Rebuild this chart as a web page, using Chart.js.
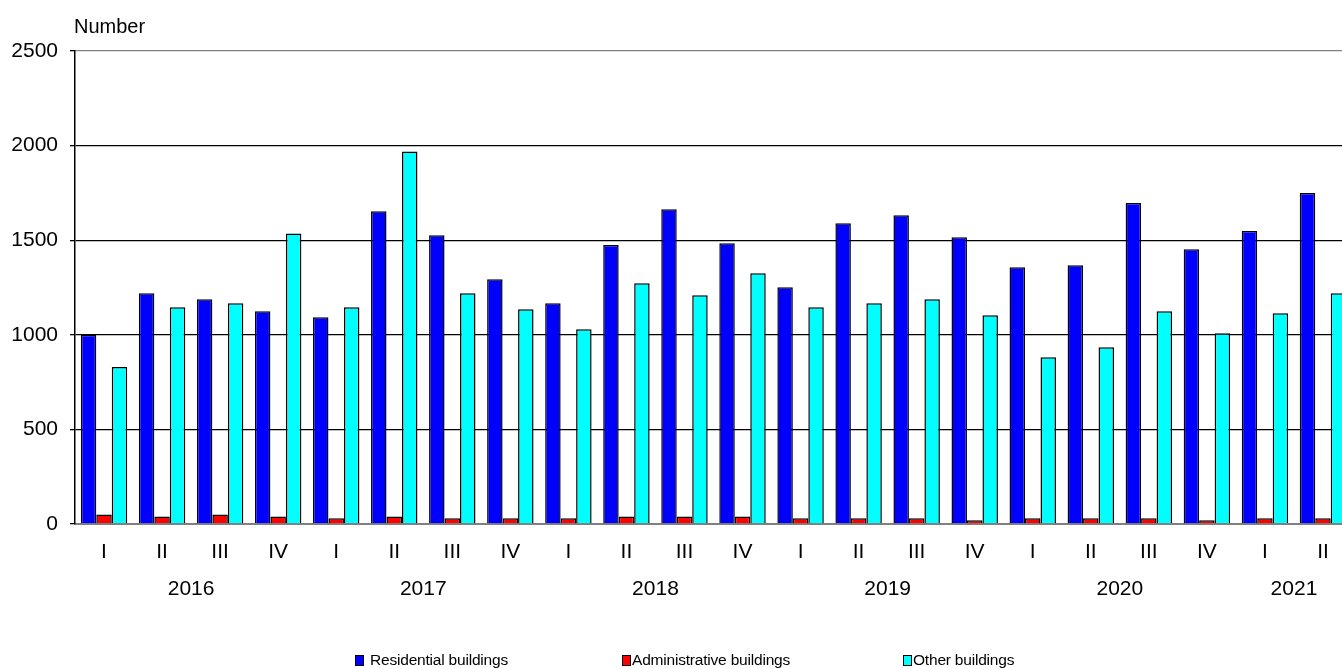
<!DOCTYPE html>
<html lang="en">
<head>
    <meta charset="UTF-8">
    <title>Buildings by quarter</title>
    <script src="https://cdn.jsdelivr.net/npm/chart.js@4.4.0/dist/chart.umd.min.js"></script>
    <style>
        body { margin: 0; overflow: hidden; background: #fff; font-family: "Liberation Sans", Arial, sans-serif; }
        #wrap { position: relative; width: 1342px; height: 668px; overflow: hidden; }
        #chart { display: block; }
        .leg { position: absolute; top: 651px; font-size: 15.5px; line-height: 18px; color: #000; white-space: nowrap; letter-spacing: -0.2px; }
        .leg i { display: inline-block; width: 7px; height: 9px; border: 1.5px solid #000; margin-right: 6px; vertical-align: -1px; }
    </style>
</head>
<body>
<div id="wrap">
    <canvas id="chart" width="1360" height="668"></canvas>
    <div class="leg" style="left:355px"><i style="background:#0000ff"></i>Residential buildings</div>
    <div class="leg" style="left:622px"><i style="background:#ff0000;margin-right:1px"></i>Administrative buildings</div>
    <div class="leg" style="left:903px"><i style="background:#00ffff;margin-right:1px"></i>Other buildings</div>
</div>
<script>
    // quarter labels and the years they belong to
    const quarters = ['I','II','III','IV','I','II','III','IV','I','II','III','IV',
                      'I','II','III','IV','I','II','III','IV','I','II'];
    const years = ['2016','2017','2018','2019','2020','2021'];

    // values
    const residential = [1000, 1220, 1188, 1124, 1093, 1653, 1526, 1294, 1167, 1474, 1664,
                         1484, 1251, 1590, 1632, 1516, 1357, 1368, 1696, 1452, 1548, 1749];
    const administrative = [50, 40, 50, 40, 30, 40, 30, 30, 30, 40, 40,
                            40, 30, 30, 30, 20, 30, 30, 30, 20, 30, 30];
    const other = [830, 1146, 1167, 1535, 1146, 1969, 1220, 1135, 1029, 1272, 1209,
                   1325, 1146, 1167, 1188, 1103, 881, 934, 1124, 1008, 1114, 1220];

    const font = '"Liberation Sans", Arial, sans-serif';

    // draws the "Number" caption and the year row under the quarters
    const extraText = {
        id: 'extraText',
        afterDraw(chart) {
            const c = chart.ctx;
            const xs = chart.scales.x;
            c.save();
            c.fillStyle = '#000';
            c.font = '20px ' + font;
            c.textAlign = 'left';
            c.textBaseline = 'alphabetic';
            c.fillText('Number', 74, 33);
            c.font = '21px ' + font;
            c.textAlign = 'center';
            c.textBaseline = 'middle';
            years.forEach((y, i) => {
                const first = i * 4;
                const last = Math.min(first + 3, quarters.length - 1);
                const mid = (xs.getPixelForValue(first) + xs.getPixelForValue(last)) / 2;
                c.fillText(y, mid, 589);
            });
            c.restore();
        }
    };

    const config = {
        type: 'bar',
        data: {
            labels: quarters,
            datasets: [
                { label: 'Residential buildings', data: residential, backgroundColor: '#0000ff' },
                { label: 'Administrative buildings', data: administrative, backgroundColor: '#ff0000' },
                { label: 'Other buildings', data: other, backgroundColor: '#00ffff' }
            ]
        },
        options: {
            responsive: false,
            animation: false,
            layout: { padding: { top: 51, right: 8, left: 0, bottom: 0 } },
            datasets: {
                bar: { barPercentage: 1, categoryPercentage: 0.8, borderWidth: 1.5, borderColor: '#000', borderSkipped: 'bottom' }
            },
            plugins: { legend: { display: false }, tooltip: { enabled: false } },
            scales: {
                x: {
                    grid: { display: false, drawTicks: false },
                    border: { color: '#808080', width: 2 },
                    ticks: { color: '#000', font: { family: font, size: 21 }, padding: 16, maxRotation: 0, autoSkip: false },
                    afterFit(s) { s.height = 144; }
                },
                y: {
                    min: 0, max: 2500,
                    grid: {
                        color: ctx => (ctx.tick.value === 2500 || ctx.tick.value === 0) ? '#808080' : '#000',
                        tickColor: '#000', tickLength: 5, lineWidth: 1.3
                    },
                    border: { color: '#000', width: 1.5 },
                    ticks: { stepSize: 500, color: '#000', font: { family: font, size: 21 }, padding: 12,
                             callback: v => String(v) },
                    afterFit(s) { s.width = 75; }
                }
            }
        },
        plugins: [extraText]
    };

    new Chart(document.getElementById('chart'), config);
</script>
</body>
</html>
